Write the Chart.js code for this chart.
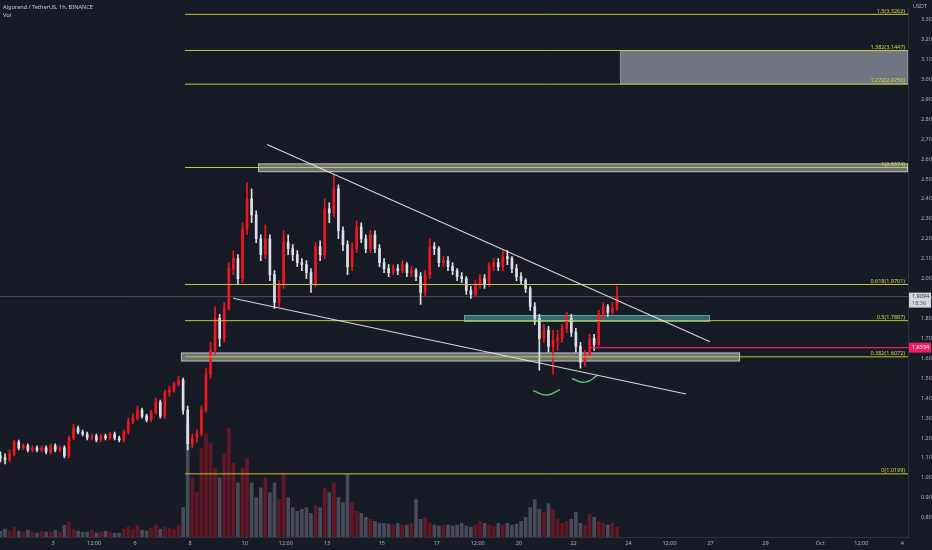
<!DOCTYPE html>
<html>
<head>
<meta charset="utf-8">
<script src="https://cdn.jsdelivr.net/npm/chart.js@4.4.1/dist/chart.umd.min.js"></script>
<style>
html, body { margin: 0; padding: 0; background: #161a25; }
#wrap { position: relative; width: 932px; height: 550px; }
</style>
</head>
<body>
<div id="wrap"><canvas id="c" width="932" height="550"></canvas></div>
<script>
// time axis is in hours since Sep 1 00:00
const tickHours = [48, 84, 120, 168, 216, 252, 288, 336, 384, 420, 456, 504, 552, 588, 624, 672, 720, 756, 792];
const tickLabels = ['3', '12:00', '6', '8', '10', '12:00', '13', '15', '17', '12:00', '20', '22', '24', '12:00', '27', '29', 'Oct', '12:00', '4'];
const priceTicks = [0.8, 0.9, 1.0, 1.1, 1.2, 1.3, 1.4, 1.5, 1.6, 1.7, 1.8, 1.9, 2.0, 2.1, 2.2, 2.3, 2.4, 2.5, 2.6, 2.7, 2.8, 2.9, 3.0, 3.1, 3.2, 3.3];

// 4h candles, first one centred at hour 2
const candleStart = 2;
const candleHours = 4;
const firstOpen = 1.11;
const closes = [
  1.10, 1.09, 1.12, 1.18, 1.15, 1.16, 1.14, 1.15, 1.14, 1.15,
  1.13, 1.16, 1.14, 1.15, 1.11, 1.20, 1.25, 1.23, 1.22, 1.20,
  1.21, 1.19, 1.21, 1.20, 1.22, 1.20, 1.19, 1.23, 1.28, 1.30,
  1.34, 1.31, 1.29, 1.33, 1.38, 1.31, 1.43, 1.44, 1.47, 1.49,
  1.34, 1.17, 1.20, 1.22, 1.34, 1.52, 1.64, 1.80, 1.70, 1.85,
  2.05, 2.10, 2.00, 2.25, 2.40, 2.32, 2.20, 2.12, 2.20, 2.02,
  1.88, 1.97, 2.18, 2.15, 2.12, 2.08, 2.07, 2.03, 1.97, 2.16,
  2.12, 2.35, 2.33, 2.45, 2.24, 2.17, 2.06, 2.15, 2.26, 2.20,
  2.15, 2.22, 2.15, 2.08, 2.05, 2.03, 2.05, 2.04, 2.07, 2.03,
  2.04, 2.01, 1.93, 2.02, 2.16, 2.15, 2.08, 2.09, 2.06, 2.04,
  2.01, 2.00, 1.94, 1.92, 1.97, 2.00, 1.97, 2.06, 2.08, 2.06,
  2.11, 2.10, 2.05, 2.01, 1.99, 1.95, 1.86, 1.80, 1.70, 1.74,
  1.66, 1.69, 1.70, 1.75, 1.80, 1.73, 1.66, 1.58, 1.62, 1.70,
  1.67, 1.82, 1.86, 1.83, 1.85, 1.91
];
const highs = [
  1.13, 1.12, 1.14, 1.19, 1.19, 1.17, 1.17, 1.16, 1.16, 1.16,
  1.16, 1.17, 1.17, 1.16, 1.16, 1.21, 1.27, 1.26, 1.24, 1.23,
  1.22, 1.22, 1.22, 1.22, 1.23, 1.23, 1.21, 1.24, 1.30, 1.32,
  1.36, 1.35, 1.32, 1.34, 1.40, 1.39, 1.44, 1.46, 1.48, 1.51,
  1.50, 1.36, 1.22, 1.24, 1.36, 1.55, 1.68, 1.86, 1.82, 1.88,
  2.08, 2.14, 2.12, 2.28, 2.48, 2.45, 2.34, 2.22, 2.27, 2.22,
  2.04, 1.99, 2.24, 2.22, 2.17, 2.14, 2.10, 2.09, 2.05, 2.18,
  2.19, 2.40, 2.38, 2.52, 2.47, 2.26, 2.19, 2.18, 2.29, 2.28,
  2.22, 2.24, 2.24, 2.17, 2.10, 2.07, 2.07, 2.07, 2.09, 2.08,
  2.06, 2.05, 2.03, 2.04, 2.20, 2.18, 2.16, 2.11, 2.11, 2.08,
  2.05, 2.03, 2.01, 1.96, 1.99, 2.02, 2.02, 2.08, 2.10, 2.10,
  2.14, 2.14, 2.11, 2.07, 2.03, 2.00, 1.96, 1.88, 1.82, 1.77,
  1.76, 1.74, 1.74, 1.77, 1.83, 1.82, 1.75, 1.68, 1.64, 1.72,
  1.72, 1.84, 1.88, 1.87, 1.88, 1.96
];
const lows = [
  1.08, 1.07, 1.08, 1.11, 1.14, 1.14, 1.13, 1.13, 1.13, 1.13,
  1.12, 1.12, 1.13, 1.13, 1.10, 1.10, 1.19, 1.22, 1.21, 1.19,
  1.19, 1.18, 1.18, 1.19, 1.19, 1.19, 1.18, 1.18, 1.22, 1.27,
  1.29, 1.30, 1.28, 1.28, 1.32, 1.30, 1.30, 1.41, 1.43, 1.46,
  1.32, 1.14, 1.15, 1.18, 1.21, 1.33, 1.50, 1.62, 1.66, 1.68,
  1.84, 2.02, 1.97, 1.98, 2.22, 2.28, 2.18, 2.09, 2.10, 1.99,
  1.85, 1.86, 1.95, 2.12, 2.09, 2.06, 2.04, 2.00, 1.93, 1.96,
  2.09, 2.10, 2.28, 2.31, 2.20, 2.14, 2.02, 2.04, 2.13, 2.18,
  2.13, 2.13, 2.13, 2.06, 2.03, 2.01, 2.02, 2.02, 2.03, 2.01,
  2.01, 1.99, 1.87, 1.91, 2.00, 2.12, 2.06, 2.06, 2.04, 2.02,
  1.99, 1.98, 1.92, 1.90, 1.91, 1.95, 1.95, 1.96, 2.04, 2.04,
  2.04, 2.07, 2.03, 1.99, 1.97, 1.93, 1.84, 1.77, 1.54, 1.68,
  1.63, 1.52, 1.64, 1.68, 1.73, 1.71, 1.63, 1.55, 1.56, 1.61,
  1.64, 1.66, 1.80, 1.81, 1.82, 1.84
];
const volumes = [
  6, 8, 6, 10, 6, 5, 7, 5, 4, 6,
  5, 5, 7, 5, 12, 15, 8, 6, 5, 5,
  7, 4, 5, 6, 5, 4, 4, 8, 10, 8,
  12, 7, 6, 9, 12, 8, 10, 9, 8, 12,
  30, 115, 60, 45, 90, 105, 95, 70, 60, 85,
  110, 75, 55, 70, 80, 55, 40, 50, 60, 45,
  55, 38, 65, 40, 30, 26, 28, 30, 24, 32,
  30, 50, 45, 55, 40, 35, 64, 35, 26, 24,
  20, 18, 16, 14, 14, 13, 12, 14, 12, 12,
  14, 38, 18, 20, 14, 12, 11, 12, 12, 11,
  12, 14, 11, 10, 12, 16, 14, 12, 11, 14,
  12, 14, 12, 13, 16, 20, 30, 38, 28, 25,
  34, 28, 18, 14, 16, 18, 25, 14, 12, 23,
  20, 16, 14, 12, 14, 10
];

// fibonacci retracement
const fibRatios = ['1.5', '1.382', '1.272', '1', '0.618', '0.5', '0.382', '0'];
const fibPrices = [3.3262, 3.1447, 2.9756, 2.5574, 1.9701, 1.7887, 1.6072, 1.0199];
const fibStart = 163.6;

// drawings (hour, price)
const upperTrend = [[235.5, 2.673], [623.5, 1.683]];
const lowerTrend = [[205.7, 1.901], [602.5, 1.421]];
const arcLeft = [[468.4, 1.438], [480.7, 1.416], [492.1, 1.443]];
const arcRight = [[502.6, 1.497], [514.0, 1.480], [525.4, 1.515]];
const lastPrice = 1.9094;
const lastTime = '18:36';
const alertPrice = 1.6534;
const alertStart = 518.4;

// zones: hour range, price range (null = to right edge)
const zoneFrom = [544.6, 227.6, 160.1, 408.0];
const zoneTo = [null, null, 649.8, 623.5];
const zoneLow = [2.9756, 2.534, 1.584, 1.782];
const zoneHigh = [3.1447, 2.578, 1.629, 1.817];

const xMin = 1.6, xMax = 796.9;
const yMin = 0.703, yMax = 3.3564;

const UP = '#f0161e', DOWN = '#dcdfe6';
const FIB = '#c7c83e';
const FONT = '"Noto Sans", sans-serif';

const opens = [firstOpen].concat(closes.slice(0, -1));
const times = closes.map((c, i) => candleStart + i * candleHours);
const isUp = closes.map((c, i) => c >= opens[i]);

const bodyData = closes.map((c, i) => ({ x: times[i], y: [opens[i], c] }));
const wickData = closes.map((c, i) => ({ x: times[i], y: [lows[i], highs[i]] }));
const volData = volumes.map((v, i) => ({ x: times[i], y: v }));

const pts = arr => arr.map(p => ({ x: p[0], y: p[1] }));

const datasets = [
  { type: 'bar', data: volData, yAxisID: 'yv', grouped: false, barThickness: 3, order: 20,
    backgroundColor: volumes.map((v, i) => isUp[i] ? 'rgba(160,22,38,0.55)' : 'rgba(118,124,138,0.5)') },
  { type: 'bar', data: wickData, grouped: false, barThickness: 1, order: 6,
    backgroundColor: isUp.map(u => u ? UP : DOWN) },
  { type: 'bar', data: bodyData, grouped: false, barThickness: 2, order: 5, minBarLength: 1,
    backgroundColor: isUp.map(u => u ? UP : DOWN) },
  { type: 'line', data: [{ x: xMin, y: lastPrice }, { x: xMax, y: lastPrice }],
    borderColor: 'rgba(120,124,136,0.55)', borderWidth: 1, pointRadius: 0, order: 8 },
  { type: 'line', data: [{ x: alertStart, y: alertPrice }, { x: xMax, y: alertPrice }],
    borderColor: '#e91e63', borderWidth: 1.2, pointRadius: 0, order: 2 },
  { type: 'line', data: pts(upperTrend), borderColor: 'rgba(235,235,240,0.9)', borderWidth: 1.1, pointRadius: 0, order: 1 },
  { type: 'line', data: pts(lowerTrend), borderColor: 'rgba(235,235,240,0.9)', borderWidth: 1.1, pointRadius: 0, order: 1 },
  { type: 'line', data: pts(arcLeft), borderColor: '#5fbf72', borderWidth: 1.4, pointRadius: 0, tension: 0.5, order: 1 },
  { type: 'line', data: pts(arcRight), borderColor: '#5fbf72', borderWidth: 1.4, pointRadius: 0, tension: 0.5, order: 1 }
];
fibPrices.forEach(p => {
  datasets.push({ type: 'line', data: [{ x: fibStart, y: p }, { x: xMax, y: p }],
    borderColor: FIB, borderWidth: 1, pointRadius: 0, order: 3 });
});

const overlay = {
  id: 'overlay',
  beforeDatasetsDraw(chart) {
    const { ctx, chartArea, scales: { x, y } } = chart;
    const fills = ['rgba(140,143,155,0.78)', 'rgba(185,186,192,0.55)', 'rgba(185,186,192,0.55)', 'rgba(85,170,165,0.55)'];
    const edges = ['rgba(140,143,155,0.9)', 'rgba(215,216,222,0.7)', 'rgba(215,216,222,0.7)', 'rgba(110,190,185,0.7)'];
    ctx.save();
    zoneLow.forEach((lo, i) => {
      const x0 = x.getPixelForValue(zoneFrom[i]);
      const x1 = zoneTo[i] == null ? chartArea.right : x.getPixelForValue(zoneTo[i]);
      const y0 = y.getPixelForValue(zoneHigh[i]);
      const y1 = y.getPixelForValue(lo);
      ctx.fillStyle = fills[i];
      ctx.fillRect(x0, y0, x1 - x0, y1 - y0);
      ctx.strokeStyle = edges[i];
      ctx.lineWidth = 1;
      ctx.strokeRect(x0 + 0.5, y0 + 0.5, x1 - x0 - 1, y1 - y0 - 1);
    });
    ctx.restore();
  },
  afterDraw(chart) {
    const { ctx, chartArea, scales: { y } } = chart;
    ctx.save();
    // header
    ctx.font = '5.6px ' + FONT;
    ctx.fillStyle = '#c9ccd4';
    ctx.textAlign = 'left';
    ctx.textBaseline = 'middle';
    ctx.fillText('Algorand / TetherUS, 1h, BINANCE', 3, 7);
    ctx.fillText('Vol', 3, 15);

    // fib labels
    ctx.font = '5.5px ' + FONT;
    ctx.fillStyle = '#d6d743';
    ctx.textAlign = 'right';
    ctx.textBaseline = 'bottom';
    fibPrices.forEach((p, i) => {
      ctx.fillText(fibRatios[i] + '(' + p.toFixed(4) + ')', chartArea.right - 3, y.getPixelForValue(p) - 0.5);
    });

    // USDT
    ctx.fillStyle = '#161a25';
    ctx.fillRect(chartArea.right + 1, 0, 24, 10);
    ctx.font = '5.5px ' + FONT;
    ctx.fillStyle = '#b2b5be';
    ctx.textAlign = 'left';
    ctx.textBaseline = 'middle';
    ctx.fillText('USDT', chartArea.right + 5, 6);

    // last price tag
    const yl = y.getPixelForValue(lastPrice);
    ctx.fillStyle = '#d4d6dc';
    ctx.fillRect(chartArea.right + 1, yl - 4, 22, 15);
    ctx.fillStyle = '#2a2e39';
    ctx.fillText(lastPrice.toFixed(4), chartArea.right + 4, yl);
    ctx.fillStyle = '#5d606b';
    ctx.fillText(lastTime, chartArea.right + 4, yl + 7);

    // alert tag
    const ya = y.getPixelForValue(alertPrice);
    ctx.fillStyle = '#e91e63';
    ctx.fillRect(chartArea.right + 1, ya - 5, 22, 10);
    ctx.fillStyle = '#ffffff';
    ctx.fillText(alertPrice.toFixed(4), chartArea.right + 4, ya);
    ctx.restore();
  }
};

new Chart(document.getElementById('c'), {
  type: 'bar',
  data: { datasets: datasets },
  plugins: [overlay],
  options: {
    responsive: false,
    animation: false,
    layout: { padding: 0 },
    plugins: { legend: { display: false }, tooltip: { enabled: false } },
    scales: {
      x: {
        type: 'linear', min: xMin, max: xMax, offset: false,
        grid: { display: false, drawTicks: false, offset: false },
        border: { color: 'rgba(255,255,255,0.1)' },
        afterBuildTicks: s => { s.ticks = tickHours.map(v => ({ value: v })); },
        afterFit: s => { s.height = 13; },
        ticks: {
          autoSkip: false, maxRotation: 0, padding: 3,
          color: '#b2b5be', font: { size: 5.5, family: FONT },
          callback: (v, i) => tickLabels[i]
        }
      },
      y: {
        type: 'linear', position: 'right', min: yMin, max: yMax,
        grid: { display: false },
        border: { color: 'rgba(255,255,255,0.1)' },
        afterBuildTicks: s => { s.ticks = priceTicks.map(v => ({ value: v })); },
        afterFit: s => { s.width = 24; },
        ticks: {
          padding: 5, color: '#b2b5be', font: { size: 5.5, family: FONT },
          callback: v => v.toFixed(4)
        }
      },
      yv: { display: false, min: 0, max: 537 }
    }
  }
});
</script>
</body>
</html>
